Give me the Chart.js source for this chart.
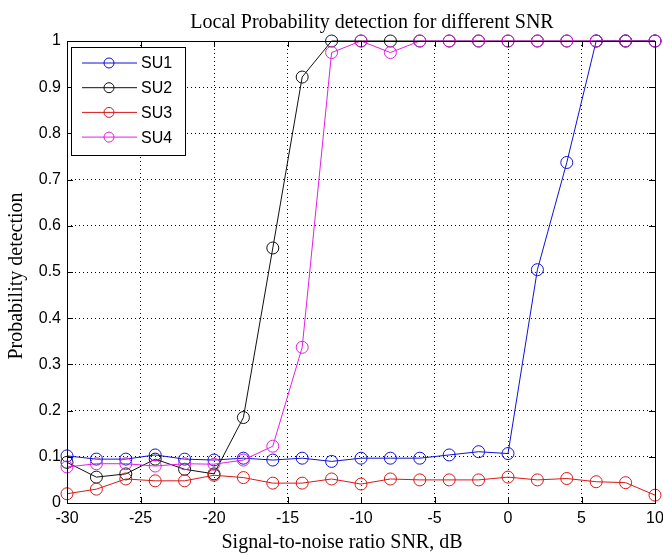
<!DOCTYPE html>
<html>
<head>
<meta charset="utf-8">
<script src="https://cdn.jsdelivr.net/npm/chart.js@4/dist/chart.umd.min.js"></script>
<style>
  html, body { margin: 0; padding: 0; background: #fff; }
  #grafico { display: block; }
</style>
</head>
<body>
<canvas id="grafico" width="663" height="555"></canvas>
<script>
// valores
const snr = [-30, -28, -26, -24, -22, -20, -18, -16, -14, -12, -10, -8, -6, -4, -2, 0, 2, 4, 6, 8, 10];
const su1 = [0.102, 0.095, 0.095, 0.104, 0.095, 0.093, 0.097, 0.093, 0.097, 0.09, 0.097, 0.097, 0.097, 0.104, 0.111, 0.107, 0.505, 0.737, 1, 1, 1];
const su2 = [0.088, 0.056, 0.063, 0.095, 0.073, 0.063, 0.185, 0.552, 0.922, 1, 1, 1, 1, 1, 1, 1, 1, 1, 1, 1, 1];
const su3 = [0.02, 0.03, 0.052, 0.048, 0.048, 0.06, 0.055, 0.043, 0.043, 0.052, 0.041, 0.052, 0.05, 0.05, 0.05, 0.056, 0.05, 0.053, 0.046, 0.044, 0.017];
const su4 = [0.078, 0.085, 0.085, 0.08, 0.085, 0.084, 0.093, 0.123, 0.337, 0.975, 1, 0.975, 1, 1, 1, 1, 1, 1, 1, 1, 1];
const xTicks = [-30, -25, -20, -15, -10, -5, 0, 5, 10];
const yTicks = [0, 0.1, 0.2, 0.3, 0.4, 0.5, 0.6, 0.7, 0.8, 0.9, 1];
const series = [
  { label: "SU1", valores: su1, cor: "#1010d8" },
  { label: "SU2", valores: su2, cor: "#101010" },
  { label: "SU3", valores: su3, cor: "#d81818" },
  { label: "SU4", valores: su4, cor: "#e020e0" },
];
const titulo = "Local Probability detection for different SNR";
const tituloX = "Signal-to-noise ratio SNR, dB";
const tituloY = "Probability detection";

const fonteTicks = { family: "'Liberation Sans', Arial, sans-serif", size: 16 };
const fonteTitulo = "'Liberation Serif', 'Times New Roman', serif";

// titulos, caixa, ticks para dentro e legenda dentro do grafico
const moldura = {
  id: "moldura",
  afterDraw(chart) {
    const { ctx, chartArea: a, scales } = chart;
    ctx.save();
    ctx.strokeStyle = "#000";
    ctx.lineWidth = 1;
    ctx.strokeRect(a.left + 0.5, a.top + 0.5, a.right - a.left, a.bottom - a.top);

    ctx.beginPath();
    xTicks.forEach((v) => {
      const px = Math.round(scales.x.getPixelForValue(v)) + 0.5;
      ctx.moveTo(px, a.bottom); ctx.lineTo(px, a.bottom - 6);
      ctx.moveTo(px, a.top); ctx.lineTo(px, a.top + 6);
    });
    yTicks.forEach((v) => {
      const py = Math.round(scales.y.getPixelForValue(v)) + 0.5;
      ctx.moveTo(a.left, py); ctx.lineTo(a.left + 6, py);
      ctx.moveTo(a.right, py); ctx.lineTo(a.right - 6, py);
    });
    ctx.stroke();

    ctx.fillStyle = "#000";
    ctx.font = "20px " + fonteTitulo;
    ctx.textAlign = "center";
    ctx.textBaseline = "alphabetic";
    ctx.fillText(titulo, 372, 28);
    ctx.fillText(tituloX, 342, 548);
    ctx.save();
    ctx.translate(22, 276);
    ctx.rotate(-Math.PI / 2);
    ctx.fillText(tituloY, 0, 0);
    ctx.restore();

    // legenda
    const lx = 71, ly = 47, lw = 114, lh = 108;
    ctx.fillStyle = "#fff";
    ctx.fillRect(lx, ly, lw, lh);
    ctx.strokeRect(lx + 0.5, ly + 0.5, lw, lh);
    ctx.textBaseline = "middle";
    series.forEach((s, i) => {
      const y = 63 + i * 24.7;
      ctx.strokeStyle = s.cor;
      ctx.beginPath();
      ctx.moveTo(82, y); ctx.lineTo(137, y);
      ctx.stroke();
      ctx.beginPath();
      ctx.arc(109, y, 5, 0, Math.PI * 2);
      ctx.stroke();
      ctx.fillStyle = "#000";
      ctx.font = "16px " + fonteTicks.family;
      ctx.textAlign = "left";
      ctx.fillText(s.label, 141, y + 1);
    });
    ctx.restore();
  },
};

new Chart(document.getElementById("grafico"), {
  type: "line",
  data: {
    datasets: series.map((s, i) => ({
      label: s.label,
      data: snr.map((x, k) => ({ x: x, y: s.valores[k] })),
      order: series.length - i, // SU4 por cima
      borderColor: s.cor,
      borderWidth: 1,
      pointRadius: 6,
      pointHoverRadius: 6,
      pointBorderWidth: 1,
      pointBorderColor: s.cor,
      pointBackgroundColor: "rgba(0,0,0,0)",
      tension: 0,
      clip: false,
    })),
  },
  options: {
    responsive: false,
    animation: false,
    layout: { padding: { top: 41, right: 8, left: 0, bottom: 0 } },
    plugins: { legend: { display: false }, title: { display: false }, tooltip: { enabled: false } },
    scales: {
      x: {
        type: "linear",
        min: -30,
        max: 10,
        afterBuildTicks: (s) => { s.ticks = xTicks.map((v) => ({ value: v })); },
        afterFit: (s) => { s.height = 52; s.paddingLeft = 0; s.paddingRight = 0; },
        ticks: { color: "#000", font: fonteTicks, padding: 6, maxRotation: 0 },
        grid: { color: "#000", lineWidth: 1, tickLength: 0 },
        border: { display: false, dash: [1, 3] },
      },
      y: {
        min: 0,
        max: 1,
        afterBuildTicks: (s) => { s.ticks = yTicks.map((v) => ({ value: v })); },
        afterFit: (s) => { s.width = 67; s.paddingTop = 0; s.paddingBottom = 0; },
        ticks: { color: "#000", font: fonteTicks, padding: 6, callback: (v) => String(Math.round(v * 10) / 10) },
        grid: { color: "#000", lineWidth: 1, tickLength: 0 },
        border: { display: false, dash: [1, 3] },
      },
    },
  },
  plugins: [moldura],
});
</script>
</body>
</html>
